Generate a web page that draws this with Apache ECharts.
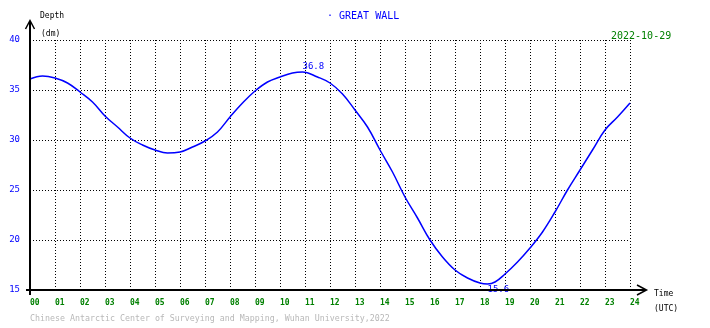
<!DOCTYPE html>
<html>
<head>
<meta charset="utf-8">
<script src="https://cdn.jsdelivr.net/npm/echarts@6/dist/echarts.min.js"></script>
<style>
  html, body { margin: 0; padding: 0; background: #fff; }
  #chart { width: 710px; height: 328px; }
</style>
</head>
<body>
<div id="chart"></div>
<script>
// Tide gauge record, Great Wall station, 2022-10-29 (UTC)
const hours = [0, 0.5, 1, 1.5, 2, 2.5, 3, 3.5, 4, 4.5, 5, 5.5, 6, 6.5, 7, 7.5, 8, 8.5, 9, 9.5, 10, 10.5, 10.9, 11.5, 12, 12.5, 13, 13.5, 14, 14.5, 15, 15.5, 16, 16.5, 17, 17.5, 18, 18.3, 18.6, 19, 19.5, 20, 20.5, 21, 21.5, 22, 22.5, 23, 23.5, 24];
const depth = [36.1, 36.4, 36.2, 35.7, 34.8, 33.8, 32.4, 31.3, 30.2, 29.5, 29.0, 28.7, 28.8, 29.3, 29.9, 30.8, 32.3, 33.7, 34.9, 35.8, 36.3, 36.7, 36.8, 36.3, 35.7, 34.6, 33.0, 31.3, 29.0, 26.8, 24.3, 22.2, 20.0, 18.3, 17.0, 16.2, 15.7, 15.6, 15.8, 16.6, 17.8, 19.2, 20.8, 22.8, 25.0, 27.0, 29.0, 31.0, 32.3, 33.7];
const xTickLabels = ['00','01','02','03','04','05','06','07','08','09','10','11','12','13','14','15','16','17','18','19','20','21','22','23','24'];
const yTickLabels = ['15','20','25','30','35','40'];
const stationName = 'GREAT WALL';
const dateText = '2022-10-29';
const creditText = 'Chinese Antarctic Center of Surveying and Mapping, Wuhan University,2022';

const series = hours.map((h, i) => [h, depth[i]]);
let iMax = 0, iMin = 0;
depth.forEach((v, i) => { if (v > depth[iMax]) iMax = i; if (v < depth[iMin]) iMin = i; });

// plot frame
const L = 30, T = 40, R = 630, B = 290;
const mono = 'DejaVu Sans Mono';

const chart = echarts.init(document.getElementById('chart'), null, { renderer: 'canvas' });
chart.setOption({
  animation: false,
  backgroundColor: '#fff',
  grid: { left: L, top: T, right: 710 - R, bottom: 328 - B, containLabel: false },
  xAxis: {
    type: 'value', min: 0, max: 24, interval: 1,
    axisLine: { show: false }, axisTick: { show: false },
    splitLine: { show: true, lineStyle: { color: '#000', width: 1, type: [1, 2] } },
    axisLabel: {
      formatter: v => xTickLabels[v] ?? '',
      color: '#008000', fontFamily: mono, fontSize: 8, fontWeight: 'bold',
      align: 'left', margin: 9, showMinLabel: true, showMaxLabel: true
    }
  },
  yAxis: {
    type: 'value', min: 15, max: 40, interval: 5,
    axisLine: { show: false }, axisTick: { show: false },
    splitLine: { show: true, lineStyle: { color: '#000', width: 1, type: [1, 2] } },
    axisLabel: {
      formatter: v => yTickLabels[(v - 15) / 5] ?? '',
      color: '#0000ff', fontFamily: mono, fontSize: 9,
      margin: 10, padding: [0, 0, 3, 0], showMinLabel: true, showMaxLabel: true
    }
  },
  series: [{
    type: 'line',
    data: series,
    smooth: 0.4,
    showSymbol: false,
    lineStyle: { color: '#0000ff', width: 1.5 },
    z: 3,
    markPoint: {
      symbol: 'circle', symbolSize: 0,
      label: {
        show: true, color: '#0000ff', fontFamily: mono, fontSize: 9,
        formatter: p => p.value.toFixed(1)
      },
      data: [
        { coord: series[iMax], value: depth[iMax],
          label: { position: 'inside', align: 'left', verticalAlign: 'bottom', offset: [0, -1] } },
        { coord: series[iMin], value: depth[iMin],
          label: { position: 'inside', align: 'left', verticalAlign: 'top', offset: [0, 1] } }
      ]
    }
  }],
  graphic: [
    // axes with open arrowheads
    { type: 'line', z: 100, shape: { x1: L, y1: B + 5, x2: L, y2: T - 19 }, style: { stroke: '#000', lineWidth: 2 } },
    { type: 'polyline', z: 100, shape: { points: [[L - 4.5, T - 11], [L, T - 19.5], [L + 4.5, T - 11]] }, style: { stroke: '#000', lineWidth: 1.5, fill: null } },
    { type: 'line', z: 100, shape: { x1: L - 4, y1: B, x2: R + 16, y2: B }, style: { stroke: '#000', lineWidth: 2 } },
    { type: 'polyline', z: 100, shape: { points: [[R + 7, B - 5], [R + 16.5, B], [R + 7, B + 5]] }, style: { stroke: '#000', lineWidth: 1.5, fill: null } },
    // axis names
    { type: 'text', z: 100, left: 40, top: 12, style: { text: 'Depth', fill: '#000', font: '8px "DejaVu Sans Mono"' } },
    { type: 'text', z: 100, left: 41, top: 30, style: { text: '(dm)', fill: '#000', font: '8px "DejaVu Sans Mono"' } },
    { type: 'text', z: 100, left: 654, top: 290, style: { text: 'Time', fill: '#000', font: '8px "DejaVu Sans Mono"' } },
    { type: 'text', z: 100, left: 654, top: 305, style: { text: '(UTC)', fill: '#000', font: '8px "DejaVu Sans Mono"' } },
    // station, date and credit
    { type: 'text', z: 100, left: 327, top: 11, style: { text: '\u00b7 ' + stationName, fill: '#0000ff', font: '10px "DejaVu Sans Mono"' } },
    { type: 'text', z: 100, left: 611, top: 31, style: { text: dateText, fill: '#008000', font: '10px "DejaVu Sans Mono"' } },
    { type: 'text', z: 100, left: 30, top: 315, style: { text: creditText, fill: '#b8b8b8', font: '8.3px "DejaVu Sans Mono"' } }
  ]
});
</script>
</body>
</html>
